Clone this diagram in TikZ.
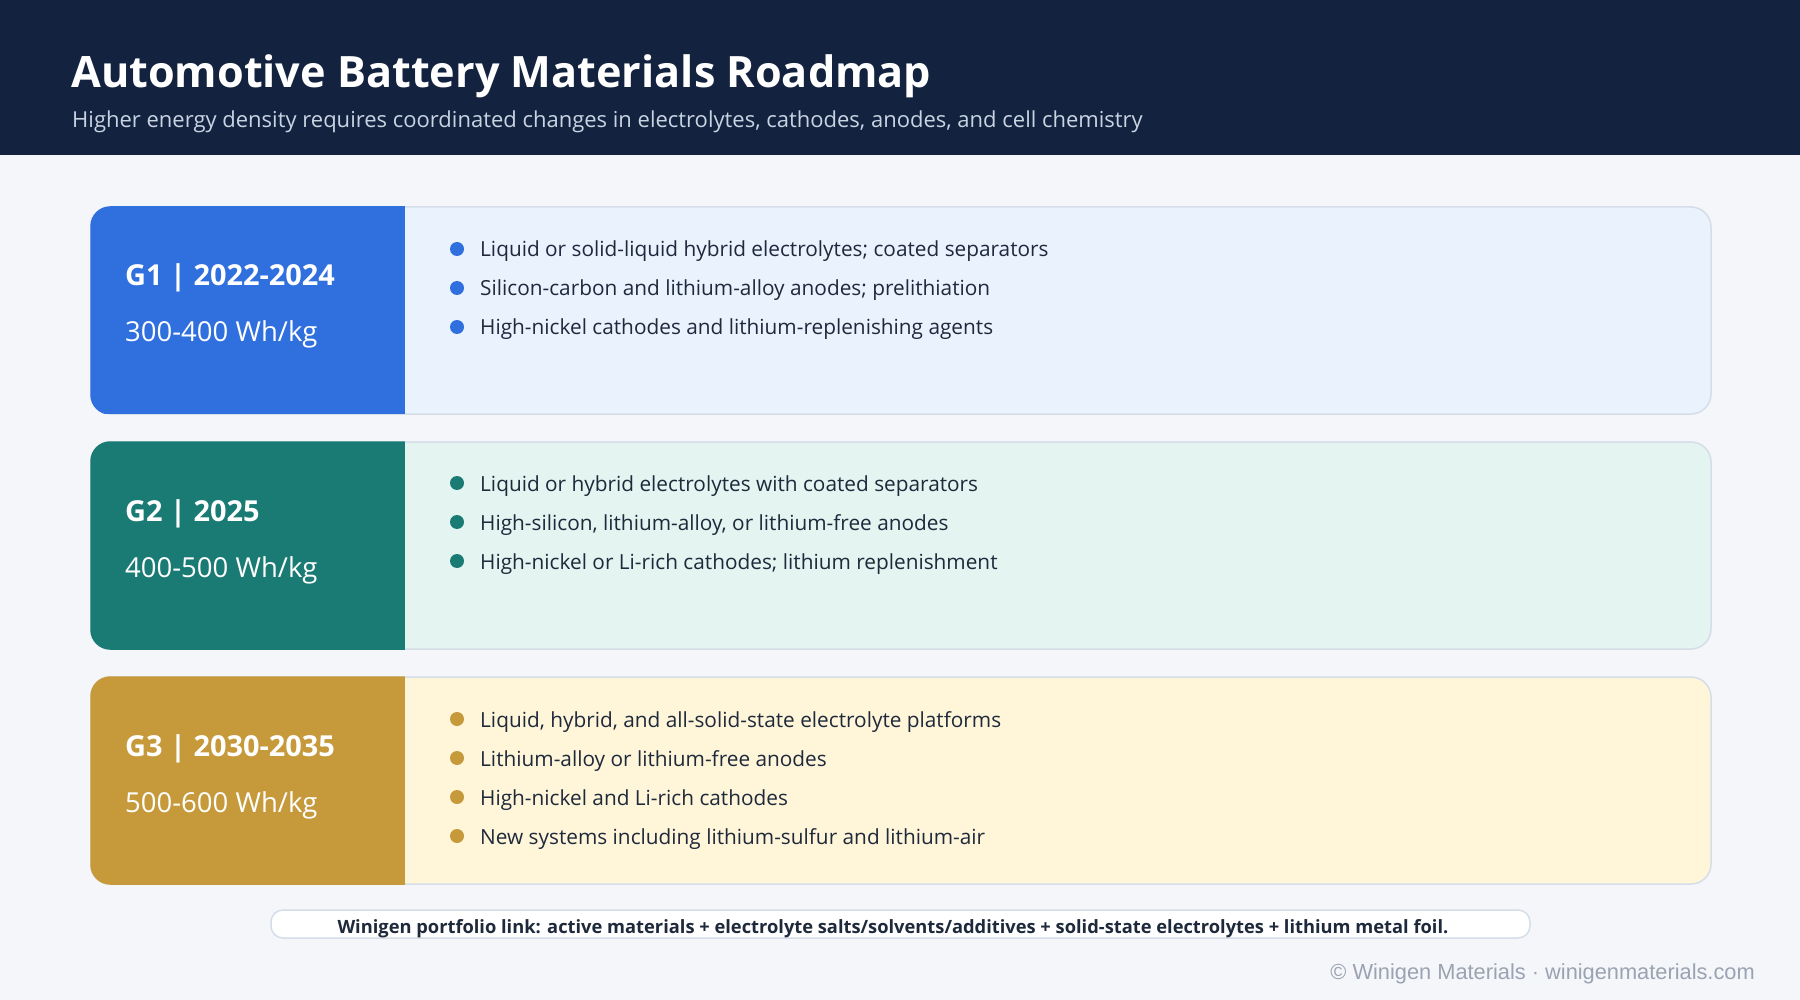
\documentclass[tikz,border=0pt]{standalone}
\usepackage{fontspec}
\setmainfont{Open Sans}
\newfontfamily\arialfont{Liberation Sans}
\definecolor{bgc}{HTML}{F4F6FA}
\definecolor{hdr}{HTML}{13233F}
\definecolor{subc}{HTML}{C9D3E2}
\definecolor{txt}{HTML}{1E293B}
\definecolor{bord}{HTML}{D5DDE8}
\definecolor{gA}{HTML}{2F6FDE}
\definecolor{gAl}{HTML}{EAF2FE}
\definecolor{gB}{HTML}{1A7B75}
\definecolor{gBl}{HTML}{E4F4F1}
\definecolor{gC}{HTML}{C69A3B}
\definecolor{gCl}{HTML}{FFF5D9}
\definecolor{copyc}{HTML}{9AA3B2}
\tikzset{
  card/.style={draw=bord, line width=1.5pt, rounded corners=20pt, minimum width=1620pt, minimum height=207pt, inner sep=0pt},
  head/.style={anchor=base west, text=white, font=\fontsize{28.9}{32}\selectfont\bfseries, inner sep=0pt},
  dens/.style={anchor=base west, text=white, font=\fontsize{27.5}{32}\selectfont, inner sep=0pt},
  item/.style={anchor=base west, text=txt, font=\fontsize{20.8}{24}\selectfont, inner sep=0pt},
}
\begin{document}
\begin{tikzpicture}[x=1pt,y=-1pt]
\useasboundingbox (0,0) rectangle (1800,1000);
\fill[bgc] (0,0) rectangle (1800,1000);
\fill[hdr] (0,0) rectangle (1800,155);
\node[anchor=base west, text=white, font=\fontsize{43.2}{48}\selectfont\bfseries, inner sep=0pt] (title) at (71,88) {Automotive Battery Materials Roadmap};
\node[anchor=base west, text=subc, font=\fontsize{22}{26}\selectfont, inner sep=0pt] (sub) at (72,128) {Higher energy density requires coordinated changes in electrolytes, cathodes, anodes, and cell chemistry};

% Card 1
\node[card, fill=gAl] (c1) at (901,310.5) {};
\begin{scope}
\clip[rounded corners=20pt] (c1.north west) rectangle (c1.south east);
\fill[gA] (c1.north west) rectangle (405,414.25);
\end{scope}
\node[head] (h1) at (125,286) {G1 | 2022-2024};
\node[dens] (d1) at (125,342) {300-400 Wh/kg};
\fill[gA] (457,249) circle (7) coordinate (b11);
\fill[gA] (457,288) circle (7) coordinate (b12);
\fill[gA] (457,327) circle (7) coordinate (b13);
\node[item] (t11) at (480,257) {Liquid or solid-liquid hybrid electrolytes; coated separators};
\node[item] (t12) at (480,296) {Silicon-carbon and lithium-alloy anodes; prelithiation};
\node[item] (t13) at (480,335) {High-nickel cathodes and lithium-replenishing agents};

% Card 2
\node[card, fill=gBl] (c2) at (901,545.5) {};
\begin{scope}
\clip[rounded corners=20pt] (c2.north west) rectangle (c2.south east);
\fill[gB] (c2.north west) rectangle (405,650);
\end{scope}
\node[head] (h2) at (125,521) {G2 | 2025};
\node[dens] (d2) at (125,577) {400-500 Wh/kg};
\fill[gB] (457,483) circle (7) coordinate (b21);
\fill[gB] (457,522) circle (7) coordinate (b22);
\fill[gB] (457,561) circle (7) coordinate (b23);
\node[item] (t21) at (480,491) {Liquid or hybrid electrolytes with coated separators};
\node[item] (t22) at (480,530) {High-silicon, lithium-alloy, or lithium-free anodes};
\node[item] (t23) at (480,569) {High-nickel or Li-rich cathodes; lithium replenishment};

% Card 3
\node[card, fill=gCl] (c3) at (901,780.5) {};
\begin{scope}
\clip[rounded corners=20pt] (c3.north west) rectangle (c3.south east);
\fill[gC] (c3.north west) rectangle (405,885);
\end{scope}
\node[head] (h3) at (125,756) {G3 | 2030-2035};
\node[dens] (d3) at (125,812) {500-600 Wh/kg};
\fill[gC] (457,719) circle (7) coordinate (b31);
\fill[gC] (457,758) circle (7) coordinate (b32);
\fill[gC] (457,797) circle (7) coordinate (b33);
\fill[gC] (457,836) circle (7) coordinate (b34);
\node[item] (t31) at (480,727) {Liquid, hybrid, and all-solid-state electrolyte platforms};
\node[item] (t32) at (480,766) {Lithium-alloy or lithium-free anodes};
\node[item] (t33) at (480,805) {High-nickel and Li-rich cathodes};
\node[item] (t34) at (480,844) {New systems including lithium-sulfur and lithium-air};

% footer
\node[draw=bord, fill=white, line width=1.5pt, rounded corners=12pt, minimum width=1259pt, minimum height=28pt, inner sep=0pt] (foot) at (900.5,924) {};
\node[text=txt, font=\fontsize{18.3}{21}\selectfont\bfseries, inner sep=0pt, anchor=base] (foottxt) at (893,933) {Winigen portfolio link: active materials + electrolyte salts/solvents/additives + solid-state electrolytes + lithium metal foil.};
\node[anchor=base east, text=copyc, font=\arialfont\fontsize{21.8}{25}\selectfont, inner sep=0pt] (copy) at (1755,979) {© Winigen Materials · winigenmaterials.com};
\end{tikzpicture}
\end{document}
